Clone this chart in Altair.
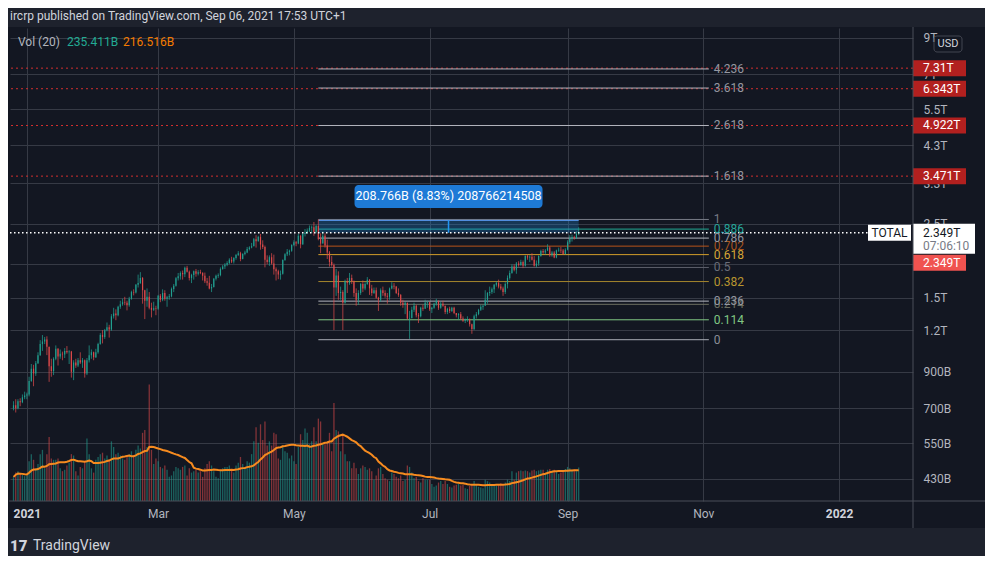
import altair as alt
import pandas as pd

FONT = "Roboto"
BG = "#131722"
BORDER = "#1e222d"
GRID = "#363a45"
AXIS_LINE = "#4a4e59"
TEXT = "#d1d4dc"
AXIS_TEXT = "#b2b5be"
UP = "#22a191"
DOWN = "#e04b4b"
MA_COLOR = "#f68b1f"

# ---------------- data (values in trillions USD, volume in billions) ----------------
DATES = pd.date_range("2020-12-26", "2021-09-06", freq="D")
FIRST_OPEN_T = 0.700

CLOSE_T = [
    # Dec 26-31
    0.715, 0.700, 0.735, 0.730, 0.755, 0.765,
    # Jan
    0.770, 0.845, 0.920, 0.890, 0.955, 1.010, 1.090, 1.110, 1.125, 1.070,
    0.935, 0.905, 0.985, 1.055, 1.000, 1.020, 1.015, 1.040, 1.030, 1.035,
    0.900, 0.960, 0.940, 0.975, 0.960, 0.975, 0.890, 0.975, 1.010, 1.030, 0.995,
    # Feb
    1.030, 1.090, 1.160, 1.145, 1.200, 1.225, 1.205, 1.320, 1.345, 1.330,
    1.410, 1.435, 1.455, 1.450, 1.425, 1.490, 1.560, 1.555, 1.640, 1.660,
    1.720, 1.580, 1.470, 1.510, 1.400, 1.380, 1.395, 1.390,
    # Mar
    1.520, 1.480, 1.550, 1.490, 1.505, 1.515, 1.595, 1.630, 1.715, 1.740,
    1.780, 1.765, 1.845, 1.795, 1.720, 1.755, 1.800, 1.770, 1.790, 1.780,
    1.745, 1.680, 1.665, 1.600, 1.615, 1.710, 1.745, 1.755, 1.830, 1.860, 1.885,
    # Apr
    1.905, 1.950, 1.925, 1.975, 2.015, 2.040, 1.960, 2.030, 2.050, 2.100,
    2.120, 2.140, 2.245, 2.215, 2.280, 2.165, 2.130, 1.950, 1.920, 1.985,
    1.900, 1.825, 1.800, 1.760, 1.770, 1.945, 2.025, 2.060, 2.075, 2.160,
    # May
    2.200, 2.180, 2.300, 2.170, 2.330, 2.350, 2.380, 2.430, 2.440, 2.360,
    2.460, 2.250, 2.180, 2.300, 2.150, 2.050, 1.920, 1.880, 1.610, 1.750,
    1.550, 1.560, 1.450, 1.680, 1.660, 1.720, 1.680, 1.550, 1.480, 1.550, 1.650,
    # Jun
    1.600, 1.650, 1.700, 1.600, 1.550, 1.580, 1.500, 1.480, 1.580, 1.550,
    1.520, 1.510, 1.600, 1.630, 1.620, 1.550, 1.530, 1.450, 1.430, 1.450,
    1.300, 1.305, 1.380, 1.420, 1.330, 1.320, 1.400, 1.390, 1.450, 1.455,
    # Jul
    1.385, 1.400, 1.440, 1.470, 1.400, 1.440, 1.420, 1.360, 1.390, 1.370,
    1.400, 1.350, 1.330, 1.340, 1.300, 1.280, 1.290, 1.295, 1.250, 1.210,
    1.320, 1.340, 1.380, 1.410, 1.420, 1.480, 1.550, 1.560, 1.590, 1.640, 1.660,
    # Aug
    1.620, 1.600, 1.560, 1.650, 1.720, 1.780, 1.860, 1.820, 1.900, 1.880,
    1.920, 1.870, 2.000, 1.980, 1.990, 1.950, 1.870, 1.900, 2.000, 2.070,
    2.050, 2.080, 2.120, 2.010, 2.050, 1.980, 2.080, 2.090, 2.080, 2.030, 2.090,
    # Sep 1-6
    2.200, 2.250, 2.280, 2.270, 2.330, 2.349,
]

HIGH_T = [
    0.735, 0.745, 0.745, 0.750, 0.770, 0.785,
    0.780, 0.870, 0.950, 0.945, 0.970, 1.030, 1.120, 1.160, 1.145, 1.150,
    1.070, 0.985, 0.995, 1.080, 1.060, 1.050, 1.035, 1.060, 1.075, 1.045,
    1.040, 0.975, 0.985, 0.990, 1.030, 0.990, 0.980, 0.990, 1.080, 1.050, 1.035,
    1.055, 1.100, 1.175, 1.200, 1.210, 1.265, 1.245, 1.340, 1.400, 1.385,
    1.420, 1.470, 1.490, 1.510, 1.470, 1.510, 1.575, 1.590, 1.650, 1.760,
    1.790, 1.730, 1.585, 1.600, 1.560, 1.450, 1.460, 1.420,
    1.530, 1.540, 1.590, 1.580, 1.520, 1.540, 1.610, 1.650, 1.730, 1.780,
    1.800, 1.810, 1.860, 1.870, 1.810, 1.770, 1.810, 1.830, 1.815, 1.820,
    1.790, 1.785, 1.720, 1.745, 1.650, 1.720, 1.760, 1.775, 1.850, 1.880, 1.905,
    1.930, 1.970, 1.990, 1.985, 2.030, 2.070, 2.060, 2.040, 2.075, 2.130,
    2.140, 2.190, 2.265, 2.310, 2.300, 2.330, 2.230, 2.150, 2.010, 2.010,
    2.040, 2.020, 1.850, 1.820, 1.810, 1.955, 2.040, 2.100, 2.090, 2.170,
    2.230, 2.220, 2.330, 2.310, 2.350, 2.410, 2.420, 2.470, 2.470, 2.530,
    2.480, 2.575, 2.340, 2.370, 2.340, 2.240, 2.070, 2.000, 1.900, 1.830,
    1.800, 1.620, 1.580, 1.700, 1.720, 1.780, 1.760, 1.690, 1.600, 1.580, 1.660,
    1.690, 1.670, 1.730, 1.705, 1.640, 1.610, 1.610, 1.510, 1.600, 1.620,
    1.580, 1.550, 1.610, 1.670, 1.660, 1.625, 1.600, 1.540, 1.480, 1.460,
    1.450, 1.370, 1.410, 1.450, 1.430, 1.350, 1.410, 1.430, 1.480, 1.470,
    1.455, 1.410, 1.450, 1.490, 1.470, 1.460, 1.470, 1.420, 1.400, 1.410,
    1.410, 1.410, 1.350, 1.350, 1.360, 1.320, 1.300, 1.320, 1.300, 1.255,
    1.335, 1.360, 1.390, 1.430, 1.430, 1.580, 1.560, 1.620, 1.610, 1.650, 1.680,
    1.700, 1.650, 1.620, 1.670, 1.750, 1.810, 1.890, 1.890, 1.920, 1.930,
    1.950, 1.940, 2.010, 2.020, 2.010, 2.040, 2.000, 1.940, 2.010, 2.090,
    2.100, 2.100, 2.170, 2.140, 2.070, 2.070, 2.090, 2.120, 2.130, 2.100, 2.110,
    2.230, 2.310, 2.320, 2.300, 2.370, 2.440,
]

LOW_T = [
    0.690, 0.680, 0.695, 0.710, 0.725, 0.745,
    0.745, 0.760, 0.840, 0.815, 0.875, 0.950, 1.005, 1.040, 1.090, 1.010,
    0.840, 0.870, 0.880, 0.975, 0.940, 0.985, 0.975, 0.990, 1.020, 0.950,
    0.865, 0.850, 0.925, 0.930, 0.950, 0.925, 0.865, 0.880, 0.960, 0.985, 0.975,
    0.990, 1.020, 1.085, 1.095, 1.130, 1.190, 1.140, 1.195, 1.300, 1.285,
    1.320, 1.390, 1.420, 1.425, 1.375, 1.410, 1.480, 1.525, 1.545, 1.610,
    1.650, 1.440, 1.295, 1.410, 1.385, 1.310, 1.370, 1.330,
    1.380, 1.455, 1.465, 1.470, 1.410, 1.480, 1.505, 1.560, 1.620, 1.690,
    1.700, 1.700, 1.730, 1.785, 1.690, 1.660, 1.700, 1.735, 1.750, 1.765,
    1.690, 1.660, 1.630, 1.590, 1.560, 1.610, 1.690, 1.720, 1.740, 1.820, 1.830,
    1.865, 1.890, 1.905, 1.900, 1.950, 2.000, 1.930, 1.955, 2.010, 2.040,
    2.080, 2.110, 2.140, 2.120, 2.210, 2.090, 2.100, 1.850, 1.890, 1.870,
    1.885, 1.760, 1.690, 1.705, 1.700, 1.760, 1.935, 2.000, 2.010, 2.060,
    2.140, 2.140, 2.170, 2.110, 2.160, 2.290, 2.330, 2.360, 2.350, 2.300,
    2.340, 2.230, 2.040, 2.180, 2.120, 1.960, 1.860, 1.860, 1.200, 1.520,
    1.480, 1.480, 1.200, 1.440, 1.550, 1.640, 1.650, 1.510, 1.420, 1.430, 1.530,
    1.560, 1.580, 1.640, 1.530, 1.520, 1.540, 1.490, 1.370, 1.460, 1.520,
    1.500, 1.440, 1.480, 1.590, 1.590, 1.540, 1.510, 1.420, 1.400, 1.340,
    1.290, 1.130, 1.300, 1.360, 1.310, 1.260, 1.310, 1.370, 1.390, 1.400,
    1.370, 1.350, 1.390, 1.420, 1.380, 1.390, 1.410, 1.340, 1.340, 1.350,
    1.360, 1.340, 1.310, 1.290, 1.290, 1.270, 1.260, 1.270, 1.230, 1.170,
    1.200, 1.300, 1.330, 1.370, 1.380, 1.420, 1.440, 1.520, 1.540, 1.550, 1.620,
    1.600, 1.580, 1.520, 1.540, 1.600, 1.700, 1.770, 1.800, 1.770, 1.860,
    1.870, 1.840, 1.860, 1.950, 1.920, 1.940, 1.860, 1.850, 1.870, 1.990,
    2.030, 2.020, 2.070, 1.990, 1.990, 1.970, 1.970, 2.060, 2.040, 2.020, 2.020,
    2.080, 2.170, 2.210, 2.240, 2.250, 2.310,
]

VOL_B = [
    170, 200, 210, 190, 185, 175,
    180, 280, 330, 290, 230, 260, 330, 360, 230, 330,
    450, 300, 290, 290, 300, 230, 210, 220, 250, 270,
    330, 320, 210, 180, 240, 230, 280, 440, 330, 230, 200,
    290, 310, 330, 340, 300, 320, 290, 420, 380, 330,
    340, 320, 300, 290, 310, 330, 350, 320, 360, 390,
    370, 480, 500, 380, 820, 360, 260, 300,
    280, 240, 230, 250, 220, 170, 180, 210, 240, 230,
    220, 240, 250, 180, 230, 200, 210, 220, 200, 210,
    170, 230, 260, 280, 250, 210, 170, 160, 220, 230, 240,
    240, 250, 220, 200, 250, 270, 310, 260, 240, 280,
    270, 330, 420, 520, 410, 540, 430, 560, 390, 420,
    390, 480, 470, 300, 290, 390, 350, 340, 300, 320,
    280, 260, 380, 470, 430, 510, 480, 400, 420, 520,
    420, 580, 560, 400, 400, 420, 480, 350, 690, 500,
    490, 350, 470, 330, 280, 280, 230, 270, 230, 190, 230,
    250, 240, 220, 230, 210, 150, 180, 230, 240, 190,
    160, 150, 140, 200, 190, 170, 160, 180, 140, 150,
    250, 240, 200, 160, 170, 140, 130, 160, 150, 150,
    150, 120, 100, 110, 130, 140, 120, 140, 120, 100,
    95, 110, 115, 120, 110, 115, 90, 85, 105, 120,
    140, 115, 100, 95, 90, 150, 140, 130, 120, 115, 110,
    120, 125, 115, 130, 150, 140, 210, 150, 200, 210,
    215, 210, 215, 210, 200, 215, 220, 210, 215, 220,
    220, 190, 220, 225, 215, 220, 210, 190, 200, 215, 225,
    240, 230, 220, 220, 210, 235.411,
]

FIB_LEVELS = [0, 0.114, 0.214, 0.236, 0.382, 0.5, 0.618, 0.702, 0.786, 0.886, 1, 1.618, 2.618, 3.618, 4.236]
FIB_LABELS = ["0", "0.114", "0.214", "0.236", "0.382", "0.5", "0.618", "0.702", "0.786", "0.886", "1",
              "1.618", "2.618", "3.618", "4.236"]
FIB_LINE_COLORS = ["#a9acb4", "#81c784", "#6d6f60", "#b2b5be", "#a5862d", "#5d606b", "#d39e2a", "#b8541a",
                   "#b2b5be", "#22ab94", "#787b86", "#b2b5be", "#b2b5be", "#b2b5be", "#b2b5be"]
FIB_TEXT_COLORS = ["#8a8d96", "#81c784", "#6d6f60", "#9598a1", "#b8952f", "#6a6d78", "#d4a535", "#a8541c",
                   "#9598a1", "#26a69a", "#787b86", "#9598a1", "#9598a1", "#9598a1", "#9598a1"]
FIB_LOW_T = 1.1233
FIB_HIGH_T = 2.5743
FIB_START = "2021-05-12T00:00:00Z"
FIB_END = "2021-11-03T12:00:00Z"

TARGET_VALUES_T = [7.31, 6.343, 4.922, 3.471]
TARGET_LABELS = ["7.31T", "6.343T", "4.922T", "3.471T"]

LAST_PRICE_T = 2.349
MEASURE_TOP_T = 2.558
MEASURE_START = "2021-05-12T00:00:00Z"
MEASURE_END = "2021-09-06T00:00:00Z"
MEASURE_TEXT = "208.766B (8.83%) 208766214508"

Y_TICKS_T = [0.43, 0.55, 0.7, 0.9, 1.2, 1.5, 1.9, 2.5, 3.3, 4.3, 5.5, 7, 9]
PRICE_DOMAIN_T = [0.3693, 9.642]
VOL_DOMAIN_B = [0, 3330]

# ---------------- tables ----------------
n = min(len(DATES), len(CLOSE_T), len(HIGH_T), len(LOW_T), len(VOL_B))
df = pd.DataFrame({
    "date": [d.strftime("%Y-%m-%dT00:00:00Z") for d in DATES[:n]],
    "close": CLOSE_T[:n], "high": HIGH_T[:n], "low": LOW_T[:n], "vol": VOL_B[:n],
})
df["open"] = df["close"].shift(1).fillna(FIRST_OPEN_T)
df["high"] = df[["high", "open", "close"]].max(axis=1)
df["low"] = df[["low", "open", "close"]].min(axis=1)

fib = pd.DataFrame({
    "lvl": FIB_LEVELS, "lbl": FIB_LABELS, "lc": FIB_LINE_COLORS, "tc": FIB_TEXT_COLORS,
})
fib["v"] = FIB_LOW_T + fib["lvl"] * (FIB_HIGH_T - FIB_LOW_T)
fib["start"] = FIB_START
fib["end"] = FIB_END

targets = pd.DataFrame({"v": TARGET_VALUES_T, "lbl": TARGET_LABELS})

t0 = pd.Timestamp(MEASURE_START)
t1 = pd.Timestamp(MEASURE_END)
measure = pd.DataFrame({
    "start": [MEASURE_START], "end": [MEASURE_END],
    "mid": [(t0 + (t1 - t0) / 2).strftime("%Y-%m-%dT%H:%M:%SZ")],
    "lo": [LAST_PRICE_T], "hi": [MEASURE_TOP_T], "txt": [MEASURE_TEXT],
})
last = pd.DataFrame({"v": [LAST_PRICE_T], "lbl": ["2.349T"]})
one = pd.DataFrame({"k": [0]})

# ---------------- scales / helpers ----------------
XSCALE = alt.Scale(type="utc", nice=False, domain=[
    alt.DateTime(year=2020, month=12, date=26, hours=16, utc=True),
    alt.DateTime(year=2022, month=2, date=1, utc=True)])
PSCALE = alt.Scale(type="log", domain=PRICE_DOMAIN_T, nice=False)
VSCALE = alt.Scale(domain=VOL_DOMAIN_B, nice=False)

IS_YEAR = "utcFormat(datum.value, '%m') == '01'"
XAXIS = alt.Axis(
    values=[alt.DateTime(year=2021, month=m, date=1, utc=True) for m in (1, 3, 5, 7, 9, 11)]
    + [alt.DateTime(year=2022, month=1, date=1, utc=True)],
    labelExpr=f"{IS_YEAR} ? utcFormat(datum.value, '%Y') : utcFormat(datum.value, '%b')",
    grid=True, gridColor=GRID, gridWidth=1, domain=False, ticks=False,
    labelColor={"condition": {"test": IS_YEAR, "value": TEXT}, "value": AXIS_TEXT},
    labelFontWeight={"condition": {"test": IS_YEAR, "value": "bold"}, "value": "normal"},
    labelFont=FONT, labelFontSize=12, labelPadding=7, labelFlush=False, labelOverlap=False, title=None,
)
YAXIS = alt.Axis(
    orient="right", values=Y_TICKS_T,
    labelExpr="datum.value >= 1 ? datum.value + 'T' : round(datum.value * 1000) + 'B'",
    grid=True, gridColor=GRID, gridWidth=1, domain=False, ticks=False,
    labelColor=AXIS_TEXT, labelFont=FONT, labelFontSize=12, labelPadding=10,
    labelFlush=False, labelOverlap=False, title=None,
)


def xe(field="date:T"):
    # every layer carries the same x axis definition so that layered axes merge cleanly
    return alt.X(field, scale=XSCALE, axis=XAXIS, title=None)


def yb(field):
    # price scale for the background group (no axis drawn there)
    return alt.Y(field, scale=PSCALE, axis=None, title=None)


def yf(field):
    # price scale for the foreground group (carries the right-hand price axis)
    return alt.Y(field, scale=PSCALE, axis=YAXIS, title=None)


updown = alt.condition("datum.close >= datum.open", alt.value(UP), alt.value(DOWN))

# ---------------- price background layers ----------------
target_lines = alt.Chart(targets).mark_rule(color="#d32f2f", strokeDash=[2, 3], strokeWidth=1).encode(
    y=yb("v:Q"))
fib_lines = alt.Chart(fib).mark_rule(strokeWidth=1).encode(
    x=xe("start:T"), x2="end:T", y=yb("v:Q"), color=alt.Color("lc:N", scale=None))
measure_fill = alt.Chart(measure).mark_rect(color="#2196f3", opacity=0.25).encode(
    x=xe("start:T"), x2="end:T", y=yb("lo:Q"), y2="hi:Q")
measure_top = alt.Chart(measure).mark_rule(color="#5b9cf6", strokeWidth=1).encode(
    x=xe("start:T"), x2="end:T", y=yb("hi:Q"))
measure_mid = alt.Chart(measure).mark_rule(color="#2196f3", strokeWidth=1.5).encode(
    x=xe("mid:T"), y=yb("lo:Q"), y2="hi:Q")
price_back = alt.layer(target_lines, fib_lines, measure_fill, measure_top, measure_mid)

# ---------------- volume ----------------
vol_bars = alt.Chart(df).mark_bar(size=1.3, opacity=0.55).encode(
    x=xe(), y=alt.Y("vol:Q", scale=VSCALE, axis=None, title=None), color=updown)
vol_ma = alt.Chart(df).transform_window(
    ma="mean(vol)", frame=[-19, 0], sort=[alt.SortField("date")]
).mark_line(color=MA_COLOR, strokeWidth=2).encode(
    x=xe(), y=alt.Y("ma:Q", scale=VSCALE, axis=None, title=None))
vol = alt.layer(vol_bars, vol_ma)

# ---------------- price foreground ----------------
wick = alt.Chart(df).mark_rule(strokeWidth=0.9, opacity=0.8).encode(
    x=xe(), y=yf("low:Q"), y2="high:Q", color=updown)
body = alt.Chart(df).mark_bar(size=1.2, opacity=0.95).encode(
    x=xe(), y=yf("open:Q"), y2="close:Q", color=updown)
last_line = alt.Chart(last).mark_rule(color="#ffffff", strokeDash=[1.5, 2.5], strokeWidth=1.5).encode(
    y=yf("v:Q"), x=alt.value(0), x2=alt.value(858))
fib_text = alt.Chart(fib).mark_text(align="left", baseline="middle", dx=5, font=FONT, fontSize=12).encode(
    x=xe("end:T"), y=yf("v:Q"), text="lbl:N", color=alt.Color("tc:N", scale=None))
m_box = alt.Chart(measure).mark_rect(width=188, height=23, cornerRadius=4, color="#1e7ad6", yOffset=-24).encode(
    x=xe("mid:T"), y=yf("hi:Q"))
m_txt = alt.Chart(measure).mark_text(color="#ffffff", font=FONT, fontSize=12.5, dy=-24).encode(
    x=xe("mid:T"), y=yf("hi:Q"), text="txt:N")
total_box = alt.Chart(last).mark_rect(height=16, color="#ffffff").encode(
    x=alt.value(858), x2=alt.value(901), y=yf("v:Q"))
total_txt = alt.Chart(last).mark_text(text="TOTAL", color=BG, font=FONT, fontSize=12).encode(
    x=alt.value(879.5), y=yf("v:Q"))
ax_box = alt.Chart(last).mark_rect(height=30, yOffset=6, color="#ffffff").encode(
    x=alt.value(903), x2=alt.value(965), y=yf("v:Q"))
ax_price = alt.Chart(last).mark_text(align="left", color=BG, font=FONT, fontSize=12).encode(
    x=alt.value(913), y=yf("v:Q"), text="lbl:N")
ax_time = alt.Chart(last).mark_text(align="left", text="07:06:10", color="#787b86", font=FONT, fontSize=12,
                                    dy=13).encode(x=alt.value(913), y=yf("v:Q"))
last_badge = alt.Chart(last).mark_rect(height=16, yOffset=30, color="#f05350").encode(
    x=alt.value(903), x2=alt.value(956), y=yf("v:Q"))
last_badge_txt = alt.Chart(last).mark_text(align="left", color="#ffffff", font=FONT, fontSize=12,
                                           dy=30).encode(x=alt.value(913), y=yf("v:Q"), text="lbl:N")
tgt_badge = alt.Chart(targets).mark_rect(height=16, color="#b2201f").encode(
    x=alt.value(903), x2=alt.value(956), y=yf("v:Q"))
tgt_txt = alt.Chart(targets).mark_text(align="left", color="#ffffff", font=FONT, fontSize=12).encode(
    x=alt.value(913), y=yf("v:Q"), text="lbl:N")
price_front = alt.layer(wick, body, last_line, fib_text, m_box, m_txt, total_box, total_txt,
                        ax_box, ax_price, ax_time, last_badge, last_badge_txt, tgt_badge, tgt_txt)

# ---------------- frame / decorations ----------------
base = alt.Chart(one)
top_strip = base.mark_rect(color=BORDER).encode(
    x=alt.value(-2), x2=alt.value(980), y=alt.value(-20), y2=alt.value(-1))
bottom_strip = base.mark_rect(color=BORDER).encode(
    x=alt.value(-2), x2=alt.value(980), y=alt.value(500), y2=alt.value(540))
separator = base.mark_rule(color=AXIS_LINE).encode(
    x=alt.value(903), y=alt.value(-1), y2=alt.value(500))
x_line = base.mark_rule(color=AXIS_LINE).encode(
    y=alt.value(473), x=alt.value(-1), x2=alt.value(980))
header = base.mark_text(text="ircrp published on TradingView.com, Sep 06, 2021 17:53 UTC+1", align="left",
                        baseline="middle", color=TEXT, font=FONT, fontSize=12).encode(
    x=alt.value(0), y=alt.value(-12))
leg1 = base.mark_text(text="Vol (20)", align="left", baseline="middle", color=AXIS_TEXT, font=FONT,
                      fontSize=12).encode(x=alt.value(8), y=alt.value(14))
leg2 = base.mark_text(text="235.411B", align="left", baseline="middle", color="#22ab94", font=FONT,
                      fontSize=12).encode(x=alt.value(57), y=alt.value(14))
leg3 = base.mark_text(text="216.516B", align="left", baseline="middle", color="#f57c00", font=FONT,
                      fontSize=12).encode(x=alt.value(113), y=alt.value(14))
usd_box = base.mark_rect(fillOpacity=0, stroke="#434651", strokeWidth=1, cornerRadius=3).encode(
    x=alt.value(924), x2=alt.value(952), y=alt.value(8), y2=alt.value(24))
usd_txt = base.mark_text(text="USD", baseline="middle", color=TEXT, font=FONT, fontSize=11).encode(
    x=alt.value(938), y=alt.value(16))
logo = base.mark_text(text="17", align="left", baseline="middle", color=TEXT, font=FONT, fontSize=15,
                      fontWeight=900).encode(x=alt.value(0), y=alt.value(518))
footer = base.mark_text(text="TradingView", align="left", baseline="middle", color=TEXT, font=FONT,
                        fontSize=14).encode(x=alt.value(23), y=alt.value(518))

chart = alt.layer(
    top_strip, bottom_strip, price_back, vol, price_front, separator, x_line,
    header, leg1, leg2, leg3, usd_box, usd_txt, logo, footer,
).resolve_scale(y="independent").properties(
    width=903, height=473,
    autosize=alt.AutoSizeParams(type="none"),
    padding={"left": 2, "top": 20, "right": 72, "bottom": 55},
    background=BG,
).configure_view(stroke=None)

chart.save("out.html", embed_options={"renderer": "svg", "actions": False})
